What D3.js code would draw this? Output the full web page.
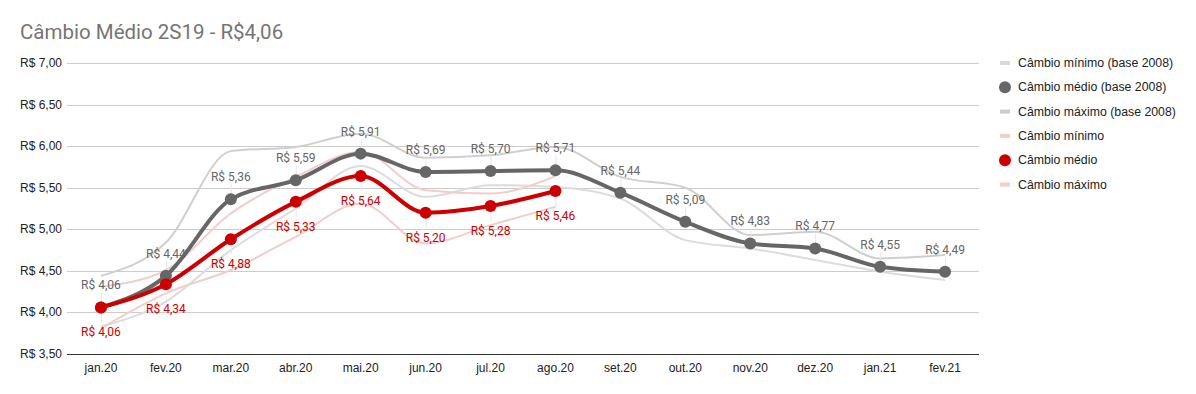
<!DOCTYPE html>
<html>
<head>
<meta charset="utf-8">
<script src="https://cdn.jsdelivr.net/npm/d3@7"></script>
<style>
  body { margin: 0; background: #fff; }
  svg { display: block; }
</style>
</head>
<body>
<svg id="chart" width="1196" height="394"></svg>
<script>
// months on the x axis
const MONTHS = ["jan.20", "fev.20", "mar.20", "abr.20", "mai.20", "jun.20", "jul.20",
                "ago.20", "set.20", "out.20", "nov.20", "dez.20", "jan.21", "fev.21"];

// base 2008 series (full range)
const MIN_2008  = [3.83, 4.13, 4.75, 5.25, 5.76, 5.39, 5.53, 5.51, 5.37, 4.87, 4.77, 4.63, 4.49, 4.39];
const MEAN_2008 = [4.06, 4.44, 5.36, 5.59, 5.91, 5.69, 5.70, 5.71, 5.44, 5.09, 4.83, 4.77, 4.55, 4.49];
const MAX_2008  = [4.44, 4.84, 5.94, 5.99, 6.15, 5.86, 5.89, 5.99, 5.63, 5.50, 4.93, 4.97, 4.65, 4.69];

// current series (only up to ago.20)
const MIN_NOW  = [3.81, 4.23, 4.51, 4.91, 5.31, 4.83, 5.05, 5.27];
const MEAN_NOW = [4.06, 4.34, 4.88, 5.33, 5.64, 5.20, 5.28, 5.46];
const MAX_NOW  = [4.31, 4.51, 5.19, 5.63, 5.93, 5.47, 5.43, 5.64];

const Y_TICKS = [3.5, 4, 4.5, 5, 5.5, 6, 6.5, 7];

const LEGEND = [
  {name: "Câmbio mínimo (base 2008)", type: "line", color: "#d9d9d9"},
  {name: "Câmbio médio (base 2008)", type: "dot", color: "#666666"},
  {name: "Câmbio máximo (base 2008)", type: "line", color: "#cccccc"},
  {name: "Câmbio mínimo", type: "line", color: "#f4cccc"},
  {name: "Câmbio médio", type: "dot", color: "#cc0000"},
  {name: "Câmbio máximo", type: "line", color: "#f4cccc"}
];

const fmt = v => "R$ " + v.toFixed(2).replace(".", ",");

const svg = d3.select("#chart");
const plotLeft = 67, plotRight = 979, plotTop = 63, plotBottom = 354;

// band centres sit a touch right of the gridline start in the original
const x = d3.scaleBand().domain(MONTHS).range([68.5, 977.5]);
const cx = m => x(m) + x.bandwidth() / 2;
const y = d3.scaleLinear().domain([3.5, 7]).range([plotBottom, plotTop]);

// title
svg.append("text")
  .attr("x", 20).attr("y", 39)
  .attr("font-family", "Roboto, sans-serif")
  .attr("font-size", 20.5)
  .attr("fill", "#757575")
  .text("Câmbio Médio 2S19 - R$4,06");

// grid + y axis labels
const yAxis = svg.append("g");
yAxis.selectAll("line").data(Y_TICKS).enter().append("line")
  .attr("x1", plotLeft).attr("x2", plotRight)
  .attr("y1", d => Math.round(y(d)) + 0.5).attr("y2", d => Math.round(y(d)) + 0.5)
  .attr("stroke", d => d === 3.5 ? "#333" : "#cccccc")
  .attr("stroke-width", 1);
yAxis.selectAll("text").data(Y_TICKS).enter().append("text")
  .attr("x", 62).attr("y", d => y(d) + 4)
  .attr("text-anchor", "end")
  .attr("font-family", "'Liberation Sans', Arial, sans-serif")
  .attr("font-size", 12)
  .attr("fill", "#222")
  .text(fmt);

// x axis labels
svg.append("g").selectAll("text").data(MONTHS).enter().append("text")
  .attr("x", cx).attr("y", 372)
  .attr("text-anchor", "middle")
  .attr("font-family", "'Liberation Sans', Arial, sans-serif")
  .attr("font-size", 12)
  .attr("fill", "#222")
  .text(d => d);

const line = d3.line()
  .x((d, i) => cx(MONTHS[i]))
  .y(d => y(d))
  .curve(d3.curveMonotoneX);

function drawLine(values, color, width) {
  svg.append("path")
    .datum(values)
    .attr("d", line)
    .attr("fill", "none")
    .attr("stroke", color)
    .attr("stroke-width", width)
    .attr("stroke-linejoin", "round");
}

drawLine(MIN_2008, "#dcdcdc", 2);
drawLine(MAX_2008, "#cfcfcf", 2);
drawLine(MIN_NOW, "#f4cccc", 2);
drawLine(MAX_NOW, "#f4cccc", 2);

// leader lines for labels
function leaders(values, dir) {
  svg.append("g").selectAll("line").data(values).enter().append("line")
    .attr("x1", (d, i) => cx(MONTHS[i]) + 0.5)
    .attr("x2", (d, i) => cx(MONTHS[i]) + 0.5)
    .attr("y1", d => y(d))
    .attr("y2", d => y(d) + dir * 15)
    .attr("stroke", "#e6e6e6")
    .attr("stroke-width", 1);
}
leaders(MEAN_2008, -1);
leaders(MEAN_NOW, 1);

drawLine(MEAN_2008, "#666666", 4);
drawLine(MEAN_NOW, "#cc0000", 4);

function dots(values, color) {
  svg.append("g").selectAll("circle").data(values).enter().append("circle")
    .attr("cx", (d, i) => cx(MONTHS[i]))
    .attr("cy", d => y(d))
    .attr("r", 6)
    .attr("fill", color);
}
dots(MEAN_2008, "#666666");
dots(MEAN_NOW, "#cc0000");

function labels(values, color, dy) {
  svg.append("g").selectAll("text").data(values).enter().append("text")
    .attr("x", (d, i) => cx(MONTHS[i]))
    .attr("y", d => y(d) + dy)
    .attr("text-anchor", "middle")
    .attr("font-family", "Roboto, sans-serif")
    .attr("font-size", 12)
    .attr("fill", color)
    .text(fmt);
}
labels(MEAN_2008, "#666666", -18);
labels(MEAN_NOW, "#cc0000", 29);

// legend
const lg = svg.append("g");
const row = lg.selectAll("g").data(LEGEND).enter().append("g")
  .attr("transform", (d, i) => `translate(1000, ${63 + i * 24.3})`);
row.filter(d => d.type === "line").append("rect")
  .attr("x", 0).attr("y", -2).attr("width", 10).attr("height", 4)
  .attr("fill", d => d.color);
row.filter(d => d.type === "dot").append("circle")
  .attr("cx", 5).attr("cy", 0).attr("r", 6)
  .attr("fill", d => d.color);
row.append("text")
  .attr("x", 18).attr("y", 4)
  .attr("font-family", "'Liberation Sans', Arial, sans-serif")
  .attr("font-size", 12.3)
  .attr("fill", "#222")
  .text(d => d.name);
</script>
</body>
</html>
